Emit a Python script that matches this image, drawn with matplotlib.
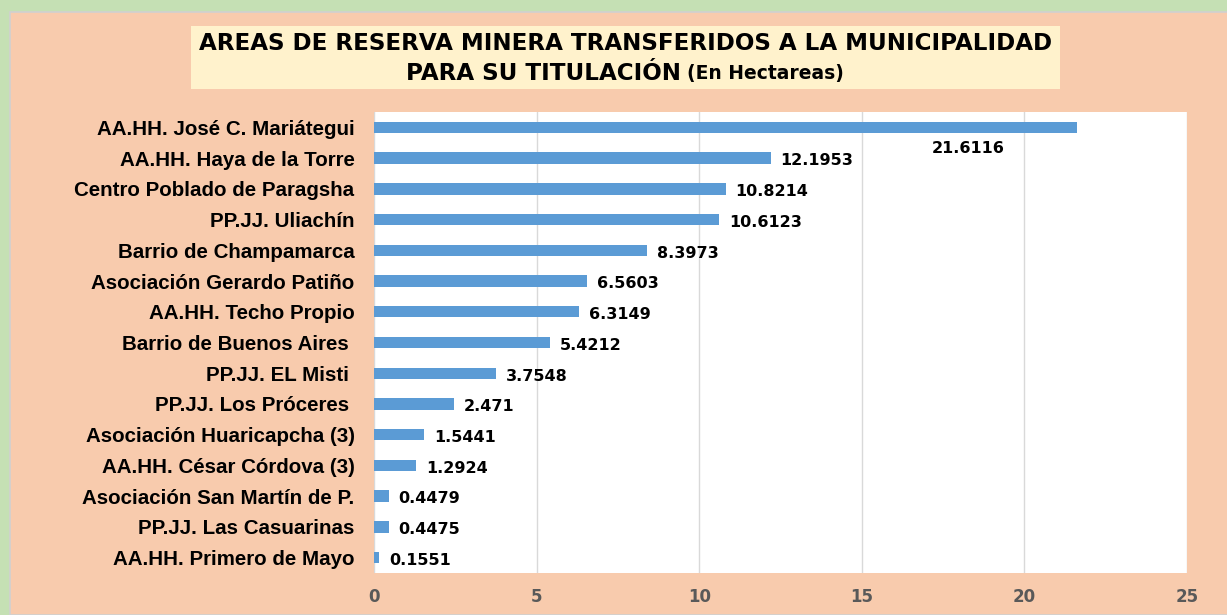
import numpy as np
import matplotlib.pyplot as plt
from matplotlib.patches import Rectangle

# datos (hectareas)
zonas = ['AA.HH. José C. Mariátegui', 'AA.HH. Haya de la Torre',
         'Centro Poblado de Paragsha', 'PP.JJ. Uliachín',
         'Barrio de Champamarca', 'Asociación Gerardo Patiño',
         'AA.HH. Techo Propio', 'Barrio de Buenos Aires ',
         'PP.JJ. EL Misti ', 'PP.JJ. Los Próceres ',
         'Asociación Huaricapcha (3)', 'AA.HH. César Córdova (3)',
         'Asociación San Martín de P.', 'PP.JJ. Las Casuarinas',
         'AA.HH. Primero de Mayo']
hectareas = [21.6116, 12.1953, 10.8214, 10.6123, 8.3973, 6.5603, 6.3149,
             5.4212, 3.7548, 2.471, 1.5441, 1.2924, 0.4479, 0.4475, 0.1551]
etiquetas = ['21.6116', '12.1953', '10.8214', '10.6123', '8.3973', '6.5603',
             '6.3149', '5.4212', '3.7548', '2.471', '1.5441', '1.2924',
             '0.4479', '0.4475', '0.1551']

verde = '#C5E0B4'
salmon = '#F8CBAD'
azul = '#5B9BD5'

fig = plt.figure(figsize=(12.27, 6.15), dpi=100)
fig.patch.set_facecolor(verde)
W, H = 1227, 615
# fondo del grafico
fig.patches.append(Rectangle((10/W, 0), 1, 1 - 12/H, transform=fig.transFigure,
                             facecolor=salmon, edgecolor='#D0D0D0', lw=1.2, zorder=-2))
# caja del titulo
fig.patches.append(Rectangle((191/W, 1 - 89/H), 869/W, 63/H, transform=fig.transFigure,
                             facecolor='#FFF2CC', edgecolor='none', zorder=-1))
fig.text(626/W, 1 - 43/H, 'AREAS DE RESERVA MINERA TRANSFERIDOS A LA MUNICIPALIDAD',
         ha='center', va='center', fontsize=16.6, fontweight='bold',
         family='DejaVu Sans')
fig.text(681/W, 1 - 73/H, 'PARA SU TITULACIÓN', ha='right', va='center',
         fontsize=16.6, fontweight='bold', family='DejaVu Sans')
fig.text(687/W, 1 - 73/H, '(En Hectareas)', ha='left', va='center',
         fontsize=13.5, fontweight='bold', family='DejaVu Sans')

ax = fig.add_axes([374/W, 1 - 573/H, 813/W, 461/H])
ax.set_zorder(5)
ax.set_facecolor('white')
y = np.arange(len(zonas))
ax.barh(y, hectareas, height=0.37, color=azul, zorder=3)
ax.set_ylim(len(zonas) - 0.5, -0.5)
ax.set_xlim(0, 25)
ax.set_xticks(np.arange(0, 26, 5))
ax.set_yticks(y)
ax.set_yticklabels(zonas, fontsize=14.8, fontweight='bold', family='Liberation Sans')
ax.tick_params(axis='y', length=0, pad=14)
ax.tick_params(axis='x', length=0, pad=11, labelcolor='#595959', labelsize=12)
for t in ax.get_xticklabels():
    t.set_fontweight('bold')
ax.grid(axis='x', color='#D9D9D9', lw=1, zorder=0)
for s in ax.spines.values():
    s.set_visible(False)

for i, (v, txt) in enumerate(zip(hectareas, etiquetas)):
    if i == 0:
        ax.annotate(txt, (v, i), xytext=(-78, -15), textcoords='offset points',
                    ha='center', va='center', fontsize=11.5, fontweight='bold',
                    family='DejaVu Sans')
    else:
        ax.annotate(txt, (v, i), xytext=(7, -2), textcoords='offset points',
                    ha='left', va='center', fontsize=11.5, fontweight='bold',
                    family='DejaVu Sans')

fig.savefig('out.png', dpi=100, facecolor=fig.get_facecolor())
